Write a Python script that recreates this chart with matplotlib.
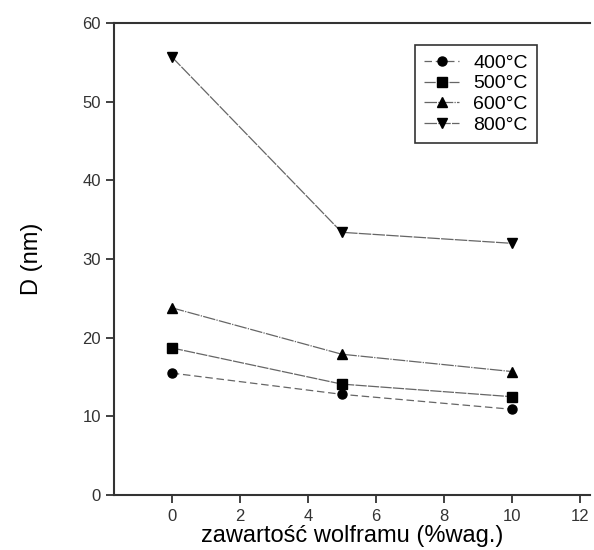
import matplotlib.pyplot as plt
import numpy as np

plt.rcParams["font.family"] = ["Liberation Sans", "DejaVu Sans"]

# values
tungsten = [0, 5, 10]
d_400 = [15.5, 12.8, 10.9]
d_500 = [18.7, 14.1, 12.5]
d_600 = [23.8, 17.9, 15.7]
d_800 = [55.7, 33.4, 32.0]
labels = ["400°C", "500°C", "600°C", "800°C"]

series = [d_400, d_500, d_600, d_800]
markers = ["o", "s", "^", "v"]
linestyles = [(0, (6, 3)), (0, (9, 1)), (0, (10, 1, 1, 1)), (0, (10, 1))]

fig = plt.figure(figsize=(5.94, 5.5), dpi=100)
ax = fig.add_axes([0.192, 0.10, 0.801, 0.858])

for values, label, mk, ls in zip(series, labels, markers, linestyles):
    ax.plot(tungsten, values, color="#666666", linewidth=0.9, linestyle=ls,
            marker=mk, markersize=6.5, markerfacecolor="black",
            markeredgecolor="black", label=label)

ax.set_xlim(-1.7, 12.3)
ax.set_ylim(0, 60)
ax.set_xticks(np.arange(0, 13, 2))
ax.set_yticks(np.arange(0, 61, 10))

for side in ["left", "bottom", "top"]:
    ax.spines[side].set_color("#333333")
    ax.spines[side].set_linewidth(1.5)
ax.spines["right"].set_visible(False)

ax.tick_params(direction="out", length=6, width=1.3, colors="#333333",
               labelsize=12, labelcolor="#333333")
ax.tick_params(axis="x", pad=4)

ax.set_xlabel("zawartość wolframu (%wag.)", fontsize=17, labelpad=1)
ax.set_ylabel("D (nm)", fontsize=17, labelpad=28)

leg = ax.legend(loc="upper right", bbox_to_anchor=(0.91, 0.975), fontsize=14,
                frameon=True, fancybox=False, edgecolor="black",
                handlelength=1.8, handletextpad=0.7, borderpad=0.5,
                labelspacing=0.15)
leg.get_frame().set_linewidth(1.2)

fig.savefig("out.png", dpi=100)
